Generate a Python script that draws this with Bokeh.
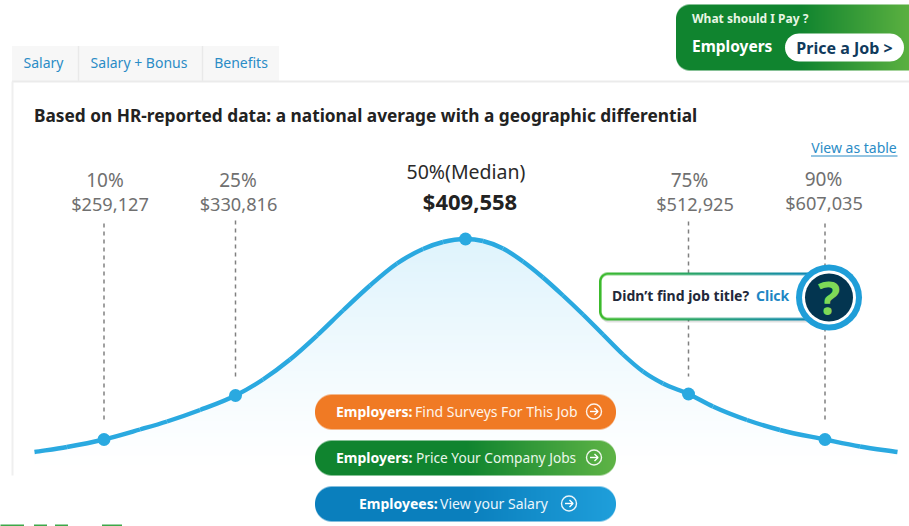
import numpy as np
from bokeh.plotting import figure
from bokeh.embed import file_html
from bokeh.resources import INLINE
from bokeh.core.properties import value

# ---- data ----
percent_labels = ["10%", "25%", "50%(Median)", "75%", "90%"]
salary_labels = ["$259,127", "$330,816", "$409,558", "$512,925", "$607,035"]
point_x = [104, 235.5, 465.5, 688.5, 825]
point_y = [440, 396, 239.5, 394.5, 440]
curve_x = [34.5, 67, 104, 140, 167, 200, 235.5, 263, 290, 317, 343, 370, 397, 423, 443, 465.5,
           483, 503, 523, 543, 563, 583, 603, 623, 643, 663, 688.5, 713, 747, 780, 825, 860, 897.5]
curve_y = [452.5, 447.5, 440, 430, 422, 410.5, 396, 380, 360, 336, 311, 286, 264, 249.5, 242.5, 239.5,
           241.5, 249, 262, 278, 296, 315, 335, 355, 372, 384, 394.5, 407, 420.5, 430.5, 440, 447, 452.5]
drop_top = [224, 221, None, 222, 224]
drop_bottom = [420, 377, None, 377, 420]
tab_labels = ["Salary", "Salary + Bonus", "Benefits"]
title_text = "Based on HR-reported data: a national average with a geographic differential"

FONT = "Noto Sans"
BLUE = "#2aa9e0"
H = 526


def Y(py):
    return H - np.asarray(py, dtype=float)


p = figure(width=909, height=526, x_range=(0.5, 909.5), y_range=(-1, 525),
           output_backend="svg", toolbar_location=None, min_border=0,
           background_fill_color="white", border_fill_color="white", outline_line_color=None)
p.axis.visible = False
p.grid.visible = False


def hexrgb(c):
    return np.array([int(c[i:i + 2], 16) for i in (1, 3, 5)], dtype=float)


def rr_sd(xx, yy, x0, x1, y0, y1, r):
    cx, cy = (x0 + x1) / 2, (y0 + y1) / 2
    qx = np.abs(xx - cx) - (x1 - x0) / 2 + r
    qy = np.abs(yy - cy) - (y1 - y0) / 2 + r
    return np.hypot(np.maximum(qx, 0), np.maximum(qy, 0)) + np.minimum(np.maximum(qx, qy), 0) - r


def put_rgba(rgb, alpha, x0, y0, w, h):
    img = np.zeros((h, w), dtype=np.uint32)
    v = img.view(np.uint8).reshape((h, w, 4))
    v[..., :3] = np.clip(rgb, 0, 255)
    v[..., 3] = np.clip(alpha * 255, 0, 255)
    # row 0 of the array is the lowest y in data space
    p.image_rgba(image=[img[::-1].copy()], x=x0, y=float(Y(y0 + h)), dw=w, dh=h)


def grad_box(x0, x1, y0, y1, r, stops, ring=None):
    w, h = x1 - x0, y1 - y0
    xx, yy = np.meshgrid(np.arange(w) + x0 + .5, np.arange(h) + y0 + .5)
    sd = rr_sd(xx, yy, x0, x1, y0, y1, r)
    alpha = np.clip(.5 - sd, 0, 1)
    if ring:
        alpha = alpha * np.clip(.5 + sd + ring, 0, 1)
    t = (xx - x0) / w
    pos = [s[0] for s in stops]
    cols = np.array([hexrgb(s[1]) for s in stops])
    rgb = np.stack([np.interp(t, pos, cols[:, i]) for i in range(3)], axis=-1)
    put_rgba(rgb, alpha, x0, y0, w, h)


def rr_patch(x0, x1, y0, y1, r, **kw):
    a = np.linspace(0, np.pi / 2, 12)
    xs = np.r_[x1 - r + r * np.sin(a), x1 - r + r * np.cos(a), x0 + r - r * np.sin(a), x0 + r - r * np.cos(a)]
    ys = np.r_[y0 + r - r * np.cos(a), y1 - r + r * np.sin(a), y1 - r + r * np.cos(a), y0 + r - r * np.sin(a)]
    p.patch(xs, Y(ys), **kw)


def label(x, y, s, size, color, style="normal", align="center", font=FONT):
    p.text([x], Y([y]), text=[s], text_font=value(font), text_font_size=f"{size}px",
           text_color=color, text_font_style=style, text_align=align, text_baseline="middle")


def arrow_icon(cx, cy):
    p.circle([cx], Y([cy]), radius=7.5, fill_color=None, line_color="#ffffff", line_width=1.4, line_alpha=.9)
    p.line([cx - 4, cx + 4], Y([cy, cy]), line_color="white", line_width=1.4)
    p.line([cx + .5, cx + 4, cx + .5], Y([cy - 3.5, cy, cy + 3.5]), line_color="white", line_width=1.4)


# tabs and panel
p.quad(left=[12], right=[279], top=Y([46.5]), bottom=Y([82]), fill_color="#f7f7f7", line_color=None)
for sx in [78.5, 202.5]:
    p.line([sx, sx], Y([46.5, 82]), line_color="#e9e9e9", line_width=1.5)
p.line([12, 910], Y([82, 82]), line_color="#ebebeb", line_width=2)
p.line([12.5, 12.5], Y([82, 476]), line_color="#efefef", line_width=2)
for cx, s in zip([43.5, 139, 241], tab_labels):
    label(cx, 63, s, 14, "#2b8cc6")

# header
label(34, 116, title_text, 17.3, "#222222", "bold", "left")
label(854, 148, "View as table", 14, "#2b8cc6")
p.line([811, 897.5], Y([156.5, 156.5]), line_color="#2b8cc6", line_width=1.2)

# green box, top right
grad_box(676, 925, 5, 71, 14, [(0, "#10842f"), (.5, "#10842f"), (.93, "#5ab040"), (1, "#5ab040")])
label(692, 19, "What should I Pay ?", 12, "#e8f5e4", "bold", "left")
label(692, 46, "Employers", 15.5, "white", "bold", "left")
rr_patch(785, 904, 34, 62, 14, fill_color="white", line_color=None)
label(844.5, 48, "Price a Job >", 16, "#103a5c", "bold")

# shaded area under the curve: vertical gradient clipped by the curve
ax0, ax1, ay0, ay1 = 34, 897, 239, 472
xx, yy = np.meshgrid(np.arange(ax0, ax1) + .5, np.arange(ay0, ay1) + .5)
top = np.interp(xx, curve_x, curve_y)
t = np.clip((yy - ay0) / (ay1 - ay0), 0, 1)
rgb = np.stack([np.full_like(t, 222.0), np.full_like(t, 243.0), np.full_like(t, 252.0)], axis=-1)
put_rgba(rgb, np.clip(yy - top + .5, 0, 1) * (1 - t) ** 1.15, ax0, ay0, ax1 - ax0, ay1 - ay0)

# dotted drop lines
for x, a, b in zip(point_x, drop_top, drop_bottom):
    if a is not None:
        p.line([x, x], Y([a, b]), line_color="#808080", line_width=1.5, line_dash="4 4")

# curve drawn as a smooth Bezier path through the read points, and the points
cx_, cy_ = np.asarray(curve_x, float), Y(curve_y)
mx = np.gradient(cy_, cx_)
d = np.diff(cx_) / 3
p.bezier(x0=cx_[:-1], y0=cy_[:-1], x1=cx_[1:], y1=cy_[1:],
         cx0=cx_[:-1] + d, cy0=cy_[:-1] + mx[:-1] * d,
         cx1=cx_[1:] - d, cy1=cy_[1:] - mx[1:] * d,
         line_color=BLUE, line_width=4.4)
p.scatter(point_x, Y(point_y), size=13, fill_color=BLUE, line_color=None)

# percentile labels
pct_pos = [(105, 180.5), (238, 180.5), (466, 172), (689.5, 180.5), (823.5, 179.5)]
sal_pos = [(110, 204), (238.5, 204), (470, 201.5), (695, 204), (824, 203)]
for i, (pl, sl) in enumerate(zip(percent_labels, salary_labels)):
    if i == 2:
        label(*pct_pos[i], pl, 19.5, "#2a2a2a", "normal")
        label(*sal_pos[i], sl, 22, "#222222", "bold")
    else:
        label(*pct_pos[i], pl, 19, "#707070")
        label(*sal_pos[i], sl, 18.2, "#707070")

# callout
rr_patch(600, 831, 275, 323, 9, fill_color="#000000", fill_alpha=.12, line_color=None)
rr_patch(600, 830, 274, 320, 8, fill_color="white", line_color=None)
grad_box(599, 831, 273, 321, 9, [(0, "#3dbb2c"), (1, "#0d84c2")], ring=2.6)
label(612, 296, "Didn\u2019t find job title?", 14, "#22283a", "bold", "left")
label(756, 296, "Click", 14, "#1d86c4", "bold", "left")
p.circle([829], Y([298]), radius=33, fill_color="#1f9ed8", line_color=None)
p.circle([829], Y([298]), radius=27, fill_color="#ffffff", line_color=None)
p.circle([829], Y([298]), radius=24, fill_color="#033550", line_color=None)
label(829, 297, "?", 47, "#7ed957", "bold")

# buttons
grad_box(315, 616, 395, 430, 17, [(0, "#f07a24"), (1, "#f07a24")])
grad_box(315, 616, 441, 476, 17, [(0, "#10842f"), (.5, "#10842f"), (1, "#5fb446")])
grad_box(315, 616, 487, 522, 17, [(0, "#0a7fbd"), (.5, "#0a7fbd"), (1, "#1f9fdb")])
label(336, 412, "Employers:", 14, "white", "bold", "left")
label(415, 412, "Find Surveys For This Job", 14, "#fff4ea", "normal", "left")
arrow_icon(594, 412)
label(336, 458, "Employers:", 14, "white", "bold", "left")
label(416, 458, "Price Your Company Jobs", 13.7, "#eaf7ea", "normal", "left")
arrow_icon(594, 458)
label(359, 504, "Employees:", 14, "white", "bold", "left")
label(440, 504, "View your Salary", 14, "#eaf6fc", "normal", "left")
arrow_icon(569, 504)

# tops of the large green letters cut off by the page edge
for x0, x1 in [(0, 24), (34, 47), (55, 68), (102, 122)]:
    p.line([x0, x1], Y([526, 526]), line_color="#3da84a", line_width=2)

open("out.html", "w").write(file_html(p, INLINE))
